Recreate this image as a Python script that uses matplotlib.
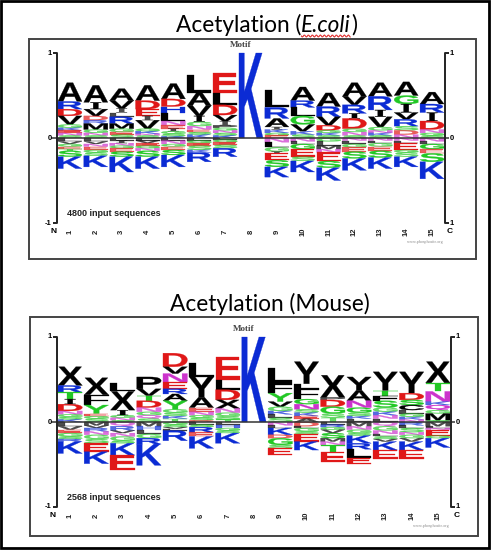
import matplotlib
matplotlib.use('Agg')
import matplotlib.pyplot as plt
import numpy as np
from matplotlib.textpath import TextPath
from matplotlib.patches import PathPatch, Rectangle
from matplotlib.font_manager import FontProperties
from matplotlib.transforms import Affine2D

# ---------------- data ----------------
positions = list(range(1, 16))
tick_labels = [str(p) for p in positions]
motif_col = 8

# stacks: list per position, letters listed top-first (height in bits-like units)
# a trailing 'g' on a letter code means drawn in green
ecoli_up = [
    [('A', .22), ('R', .09), ('D', .08), ('V', .10), ('G', .04), ('K', .03), ('E', .03), ('N', .03), ('S', .03)],
    [('A', .20), ('I', .08), ('V', .08), ('D', .05), ('R', .04), ('M', .07), ('G', .04), ('N', .03), ('S', .03)],
    [('A', .14), ('V', .09), ('I', .05), ('L', .05), ('R', .08), ('M', .06), ('G', .04), ('E', .03), ('S', .04)],
    [('A', .18), ('D', .10), ('E', .08), ('I', .05), ('V', .10), ('G', .03), ('K', .03), ('N', .02), ('S', .03)],
    [('A', .18), ('D', .09), ('H', .08), ('L', .09), ('N', .05), ('E', .04), ('I', .03), ('G', .03), ('S', .03), ('K', .02)],
    [('L', .21), ('A', .15), ('V', .12), ('I', .07), ('G', .05), ('N', .04), ('E', .03), ('S', .03), ('K', .04)],
    [('E', .23), ('L', .14), ('D', .12), ('V', .07), ('I', .05), ('P', .03), ('G', .03), ('N', .03), ('S', .03), ('K', .03)],
    [('K', 1.0)],
    [('L', .20), ('R', .13), ('A', .10), ('I', .03), ('K', .04), ('G', .03), ('E', .03)],
    [('A', .16), ('R', .08), ('L', .10), ('G', .10), ('V', .08), ('K', .04), ('S', .04)],
    [('A', .16), ('R', .12), ('V', .10), ('D', .06), ('G', .03), ('K', .03), ('S', .03)],
    [('A', .16), ('V', .10), ('R', .10), ('I', .06), ('D', .12), ('G', .04), ('N', .04), ('S', .03)],
    [('A', .16), ('R', .16), ('I', .08), ('V', .12), ('G', .04), ('N', .03), ('K', .03), ('S', .03)],
    [('A', .16), ('G', .10), ('I', .10), ('V', .08), ('R', .08), ('S', .05), ('D', .05), ('N', .04)],
    [('A', .14), ('R', .10), ('I', .10), ('D', .10), ('N', .04), ('G', .03), ('S', .03)],
]
# negative stacks listed from the baseline downward
ecoli_down = [
    [('L', .04), ('V', .03), ('G', .03), ('E', .03), ('T', .02), ('S', .07), ('K', .14)],
    [('L', .04), ('V', .03), ('N', .03), ('E', .04), ('G', .03), ('S', .04), ('K', .13)],
    [('L', .03), ('I', .03), ('N', .03), ('G', .03), ('E', .04), ('S', .06), ('K', .18)],
    [('L', .03), ('V', .03), ('E', .03), ('G', .03), ('N', .03), ('S', .07), ('K', .14)],
    [('L', .03), ('N', .04), ('G', .03), ('E', .04), ('S', .06), ('K', .14)],
    [('L', .03), ('G', .03), ('E', .03), ('S', .05), ('K', .03), ('R', .11)],
    [('L', .02), ('G', .03), ('E', .03), ('S', .04), ('R', .10)],
    [],
    [('N', .05), ('L', .06), ('G', .05), ('I', .02), ('E', .08), ('S', .08), ('K', .12)],
    [('N', .04), ('L', .03), ('G', .06), ('E', .09), ('S', .05), ('K', .13)],
    [('G', .04), ('L', .05), ('M', .04), ('N', .04), ('E', .10), ('S', .08), ('K', .15)],
    [('N', .03), ('L', .04), ('G', .04), ('E', .05), ('S', .08), ('K', .14)],
    [('N', .03), ('L', .03), ('G', .04), ('E', .05), ('S', .08), ('K', .13)],
    [('N', .03), ('L', .03), ('E', .08), ('G', .03), ('S', .05), ('K', .12)],
    [('N', .04), ('L', .03), ('G', .06), ('E', .05), ('S', .10), ('K', .20)],
]

mouse_up = [
    [('X', .22), ('R', .08), ('T', .08), ('I', .06), ('D', .08), ('N', .04), ('G', .03), ('S', .03), ('K', .03)],
    [('X', .20), ('F', .12), ('Yg', .10), ('E', .03), ('G', .03), ('S', .04)],
    [('L', .10), ('X', .22), ('I', .06), ('G', .03), ('N', .03), ('S', .02)],
    [('P', .14), ('V', .08), ('T', .06), ('D', .08), ('N', .05), ('G', .04), ('Q', .04), ('S', .04)],
    [('D', .16), ('V', .08), ('N', .10), ('E', .08), ('R', .06), ('A', .08), ('Yg', .10), ('G', .04), ('S', .04), ('K', .03), ('T', .04)],
    [('L', .17), ('Y', .24), ('A', .12), ('E', .05), ('N', .04), ('G', .03), ('S', .03), ('D', .02)],
    [('E', .27), ('L', .12), ('D', .12), ('X', .10), ('N', .05), ('G', .04), ('S', .04), ('T', .03)],
    [('K', 1.0)],
    [('L', .18), ('F', .12), ('Yg', .10), ('V', .06), ('G', .05), ('K', .04), ('L', .04), ('S', .05)],
    [('Y', .26), ('L', .06), ('F', .12), ('G', .06), ('N', .06), ('S', .04), ('K', .04), ('E', .03), ('A', .04)],
    [('X', .26), ('P', .03), ('D', .08), ('G', .08), ('S', .05), ('T', .05)],
    [('Y', .16), ('A', .12), ('N', .08), ('G', .06), ('S', .04), ('K', .03), ('L', .04)],
    [('Y', .22), ('T', .06), ('F', .06), ('S', .08), ('G', .05), ('K', .04), ('N', .04), ('L', .04)],
    [('Y', .25), ('D', .08), ('S', .06), ('C', .06), ('L', .04), ('G', .04), ('K', .03), ('N', .03)],
    [('X', .25), ('T', .10), ('N', .12), ('K', .04), ('Q', .06), ('G', .04), ('M', .08), ('S', .02)],
]
mouse_down = [
    [('L', .05), ('V', .04), ('E', .04), ('G', .04), ('S', .03), ('R', .03), ('K', .14)],
    [('M', .04), ('V', .03), ('R', .04), ('N', .04), ('G', .05), ('S', .05), ('E', .10), ('K', .14)],
    [('Q', .05), ('R', .05), ('V', .03), ('N', .04), ('G', .05), ('S', .03), ('K', .14), ('E', .18)],
    [('M', .05), ('H', .04), ('L', .05), ('G', .05), ('R', .07), ('K', .25)],
    [('G', .03), ('S', .03), ('V', .02), ('L', .02), ('R', .12)],
    [('L', .03), ('S', .03), ('R', .06), ('E', .05), ('K', .14)],
    [('L', .03), ('H', .04), ('G', .03), ('S', .03), ('K', .12)],
    [],
    [('N', .04), ('L', .03), ('K', .08), ('D', .04), ('G', .08), ('S', .04), ('E', .08)],
    [('D', .05), ('L', .02), ('G', .04), ('S', .03), ('E', .09), ('K', .10)],
    [('L', .03), ('R', .03), ('G', .03), ('V', .04), ('S', .06), ('M', .04), ('N', .04), ('T', .08), ('E', .12)],
    [('M', .05), ('N', .04), ('G', .04), ('S', .03), ('K', .09), ('R', .07), ('L', .10), ('E', .07)],
    [('Q', .05), ('G', .05), ('N', .04), ('L', .03), ('S', .03), ('V', .03), ('K', .10), ('E', .10)],
    [('R', .04), ('L', .03), ('S', .05), ('N', .03), ('G', .04), ('V', .04), ('K', .10), ('E', .10)],
    [('M', .05), ('L', .02), ('N', .02), ('E', .07), ('G', .03), ('K', .11)],
]

ecoli_nseq = 4800
mouse_nseq = 2568

# ---------------- styling ----------------
BLACK, BLUE, RED, GREEN, MAG = '#000000', '#0b2bd4', '#e01818', '#22c825', '#cc33cc'
colors = {}
for c in 'AVLIMFPWXCY':
    colors[c] = BLACK
for c in 'GST':
    colors[c] = GREEN
for c in 'DE':
    colors[c] = RED
for c in 'KRH':
    colors[c] = BLUE
for c in 'NQ':
    colors[c] = MAG

FP = FontProperties(family='Liberation Sans', weight='bold')
FPS = FontProperties(family='Liberation Serif', weight='bold')
_cache = {}


def glyph(ch):
    if ch not in _cache:
        prop = FPS if ch == 'I' else FP
        _cache[ch] = TextPath((0, 0), ch, size=1, prop=prop)
    return _cache[ch]


def draw_letter(ax, code, xc, y0, h, w=0.93):
    ch = code[0]
    col = GREEN if code.endswith('g') else colors[ch]
    p = glyph(ch)
    ext = p.get_extents()
    ww = w * 0.45 if ch == 'I' else w
    t = (Affine2D().translate(-ext.x0, -ext.y0)
         .scale(ww / ext.width, h / ext.height)
         .translate(xc - ww / 2, y0))
    a = 0.7 if h < 0.06 else 1.0
    ax.add_patch(PathPatch(t.transform_path(p), facecolor=col, edgecolor=col,
                           lw=0.2, alpha=a, clip_on=False))


W, H = 491, 550
fig = plt.figure(figsize=(W / 100, H / 100), dpi=100)
bg = fig.add_axes([0, 0, 1, 1])
bg.set_xlim(0, W)
bg.set_ylim(H, 0)
bg.axis('off')

# outer frame
bg.add_patch(Rectangle((1, 1), W - 3, H - 3, fill=False, ec='black', lw=2))

title_font = ['Lato', 'DejaVu Sans']
TFS = 16.3
t1a = bg.text(176, 25, 'Acetylation (', fontsize=TFS, family=title_font, ha='left', va='center')
fig.canvas.draw()
r = fig.canvas.get_renderer()
bb = t1a.get_window_extent(r)
t1b = bg.text(bb.x1, 25, 'E.coli', fontsize=TFS, family=title_font, style='italic', ha='left', va='center')
bb2 = t1b.get_window_extent(r)
t1c = bg.text(bb2.x1 + 0.5, 25, ')', fontsize=TFS, family=title_font, ha='left', va='center')
# spell-check wavy underline
xs = np.linspace(bb2.x0, bb2.x1 - 1, 60)
bg.plot(xs, 36 + 1.0 * np.sin((xs - xs[0]) * 2 * np.pi / 4.0), color='#e03030', lw=0.8)

bg.text(270, 304, 'Acetylation (Mouse)', fontsize=TFS, family=title_font, ha='center', va='center')

# panel frames
bg.add_patch(Rectangle((29, 39), 447, 220, fill=False, ec='#444444', lw=1.4))
bg.add_patch(Rectangle((30, 317), 448, 219, fill=False, ec='#444444', lw=1.4))


def make_panel(px_left, px_right, py_top, py_bottom):
    ax = fig.add_axes([px_left / W, 1 - py_bottom / H, (px_right - px_left) / W, (py_bottom - py_top) / H])
    ax.set_xlim(0.5, 15.5)
    ax.set_ylim(-1, 1)
    ax.axis('off')
    return ax


def draw_panel(ax, up, down, nseq):
    for x, col in zip(positions, up):
        y = sum(h for _, h in col)
        for code, h in col:
            y -= h
            draw_letter(ax, code, x, y, h)
    for x, col in zip(positions, down):
        y = 0
        for code, h in col:
            y -= h
            draw_letter(ax, code, x, y, h)
    kw = dict(clip_on=False, solid_capstyle='butt')
    ax.plot([0.27, 15.65], [0, 0], color='#333333', lw=1.1, **kw)
    ax.plot([0.35, 0.5, 0.5, 0.35], [1, 1, -1, -1], color='#222222', lw=1.4, **kw)
    ax.plot([15.65, 15.5, 15.5, 15.65], [1, 1, -1, -1], color='#222222', lw=1.4, **kw)
    lab = dict(fontsize=5.5, fontweight='bold', family='Liberation Sans', va='center', clip_on=False)
    ax.text(0.3, 1, '1', ha='right', **lab)
    ax.text(0.3, 0, '0', ha='right', **lab)
    ax.text(0.3, -1, '-1', ha='right', **lab)
    ax.text(15.68, 1, '1', ha='left', **lab)
    ax.text(15.68, 0, '0', ha='left', **lab)
    ax.text(15.68, -1, '1', ha='left', **lab)
    for x, s in zip(positions, tick_labels):
        ax.text(x, -1.1, s, rotation=90, ha='center', va='center', fontsize=5.5,
                fontweight='bold', family='Liberation Sans', color='#222222')
    ax.text(0.35, -1.1, 'N', ha='center', va='center', fontsize=6, fontweight='bold', family='Liberation Sans')
    ax.text(15.7, -1.1, 'C', ha='center', va='center', fontsize=6, fontweight='bold', family='Liberation Sans')
    ax.text(motif_col - 0.4, 1.09, 'Motif', ha='center', va='center', fontsize=6.5,
            fontweight='bold', family='Liberation Serif', color='#444444')
    ax.text(0.88, -0.89, f'{nseq} input sequences', ha='left', va='center', fontsize=6.5,
            fontweight='bold', family='Liberation Sans', color='#222222')
    ax.text(15.4, -1.22, 'www.phosphosite.org', ha='right', va='center', fontsize=3,
            family='Liberation Serif', color='#888888')


ax1 = make_panel(57, 445, 53, 223)
draw_panel(ax1, ecoli_up, ecoli_down, ecoli_nseq)
ax2 = make_panel(57, 451, 337, 507)
draw_panel(ax2, mouse_up, mouse_down, mouse_nseq)

fig.savefig('out.png', dpi=100)
